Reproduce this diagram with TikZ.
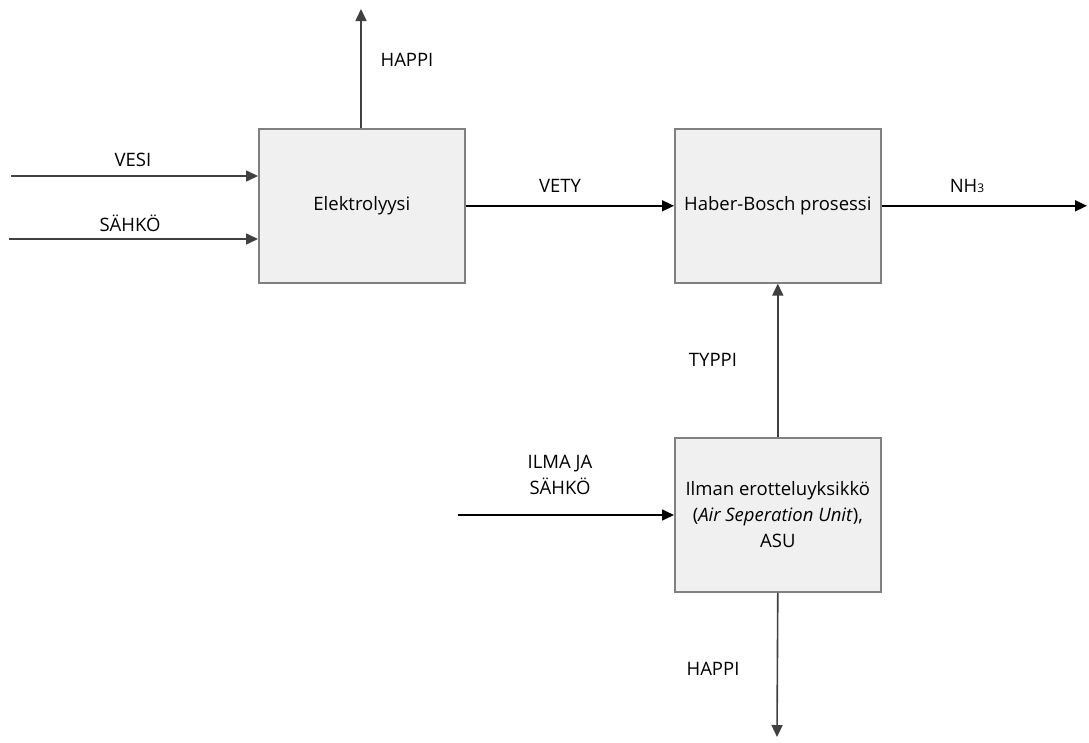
\documentclass[tikz,border=0pt]{standalone}
\usepackage{fontspec}
\setmainfont{Open Sans}
\usetikzlibrary{arrows.meta}
\begin{document}
\begin{tikzpicture}[x=1pt,y=-1pt,
  font=\fontsize{18.5}{26}\selectfont,
  proc/.style={draw=black!50,line width=1.6pt,fill=black!6,minimum width=206pt,minimum height=154pt,inner sep=0pt,align=center,anchor=north west},
  flow/.style={draw=black!75,line width=1.6pt,-{Triangle[length=12pt,width=11pt]}},
  lbl/.style={inner sep=0pt,align=center}]
\useasboundingbox (0,0) rectangle (1089,742);
\node[proc] (el) at (258,128) {Elektrolyysi};
\node[proc] (hb) at (674,128) {Haber-Bosch prosessi};
\node[proc] (asu) at (674,437) {Ilman erotteluyksikkö\\(\textit{Air Seperation Unit}),\\ASU};
\coordinate (vesi) at (11,176);
\coordinate (sahko) at (9,239);
\coordinate (happi1) at (361,9);
\coordinate (nh3) at (1087,205);
\coordinate (ilma) at (458,515);
\coordinate (happi2) at (777,737);
\draw[flow] (vesi) -- (vesi -| el.west);
\draw[flow] (sahko) -- (sahko -| el.west);
\draw[flow] (el.north -| happi1) -- (happi1);
\draw[flow,draw=black] (el.east) -- (hb.west);
\draw[flow,draw=black] (hb.east) -- (hb.east -| nh3);
\draw[flow] (asu.north) -- (hb.south);
\draw[flow,draw=black] (ilma) -- (ilma -| asu.west);
\draw[flow] (asu.south) -- (happi2);
\node[lbl] (lvesi) at (133,160) {VESI};
\node[lbl] (lsahko) at (130,223) {SÄHKÖ};
\node[lbl] (lhappi1) at (407,60) {HAPPI};
\node[lbl] (lvety) at (560,186) {VETY};
\node[lbl] (lnh3) at (967,186) {NH{\fontsize{12}{12}\selectfont 3}};
\node[lbl] (ltyppi) at (713,360) {TYPPI};
\node[lbl] (lilma) at (560,475) {ILMA JA\\SÄHKÖ};
\node[lbl] (lhappi2) at (713,669) {HAPPI};
\end{tikzpicture}
\end{document}
